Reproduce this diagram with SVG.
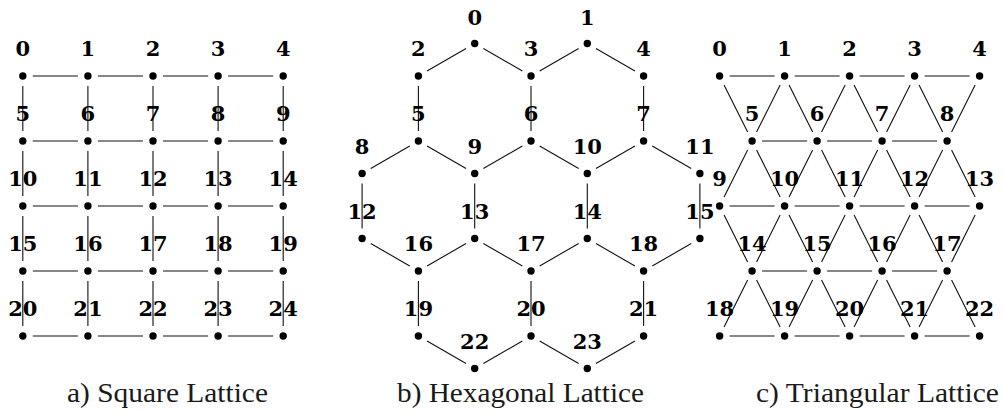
<svg xmlns="http://www.w3.org/2000/svg" width="1003" height="413" viewBox="0 0 1003 413">
<style>
.e{stroke:#111;stroke-width:1.1;fill:none}
.l{font-family:"DejaVu Serif","Liberation Serif",serif;font-weight:bold;font-size:21px;text-anchor:middle;fill:#000}
.c{font-family:"Liberation Serif",serif;font-size:27px;text-anchor:middle;fill:#1a1a1a}
</style>
<defs><circle id="d" r="3.7"/></defs>
<rect width="1003" height="413" fill="#fff"/>

<!-- Square lattice connectors -->
<g id="square-edges" class="e">
<path d="M32.8 76H77.9M97.9 76H143M163 76H208.1M228.1 76H273.2
M32.8 141H77.9M97.9 141H143M163 141H208.1M228.1 141H273.2
M32.8 206H77.9M97.9 206H143M163 206H208.1M228.1 206H273.2
M32.8 271H77.9M97.9 271H143M163 271H208.1M228.1 271H273.2
M32.8 336H77.9M97.9 336H143M163 336H208.1M228.1 336H273.2
M22.8 86V131M22.8 151V196M22.8 216V261M22.8 281V326
M87.9 86V131M87.9 151V196M87.9 216V261M87.9 281V326
M153 86V131M153 151V196M153 216V261M153 281V326
M218.1 86V131M218.1 151V196M218.1 216V261M218.1 281V326
M283.2 86V131M283.2 151V196M283.2 216V261M283.2 281V326"/>
</g>

<!-- Square lattice nodes -->
<g id="sq0"><use href="#d" x="22.8" y="76"/><text class="l" x="22.8" y="56">0</text></g>
<g id="sq1"><use href="#d" x="87.9" y="76"/><text class="l" x="87.9" y="56">1</text></g>
<g id="sq2"><use href="#d" x="153" y="76"/><text class="l" x="153" y="56">2</text></g>
<g id="sq3"><use href="#d" x="218.1" y="76"/><text class="l" x="218.1" y="56">3</text></g>
<g id="sq4"><use href="#d" x="283.2" y="76"/><text class="l" x="283.2" y="56">4</text></g>
<g id="sq5"><use href="#d" x="22.8" y="141"/><text class="l" x="22.8" y="121">5</text></g>
<g id="sq6"><use href="#d" x="87.9" y="141"/><text class="l" x="87.9" y="121">6</text></g>
<g id="sq7"><use href="#d" x="153" y="141"/><text class="l" x="153" y="121">7</text></g>
<g id="sq8"><use href="#d" x="218.1" y="141"/><text class="l" x="218.1" y="121">8</text></g>
<g id="sq9"><use href="#d" x="283.2" y="141"/><text class="l" x="283.2" y="121">9</text></g>
<g id="sq10"><use href="#d" x="22.8" y="206"/><text class="l" x="22.8" y="186">10</text></g>
<g id="sq11"><use href="#d" x="87.9" y="206"/><text class="l" x="87.9" y="186">11</text></g>
<g id="sq12"><use href="#d" x="153" y="206"/><text class="l" x="153" y="186">12</text></g>
<g id="sq13"><use href="#d" x="218.1" y="206"/><text class="l" x="218.1" y="186">13</text></g>
<g id="sq14"><use href="#d" x="283.2" y="206"/><text class="l" x="283.2" y="186">14</text></g>
<g id="sq15"><use href="#d" x="22.8" y="271"/><text class="l" x="22.8" y="251">15</text></g>
<g id="sq16"><use href="#d" x="87.9" y="271"/><text class="l" x="87.9" y="251">16</text></g>
<g id="sq17"><use href="#d" x="153" y="271"/><text class="l" x="153" y="251">17</text></g>
<g id="sq18"><use href="#d" x="218.1" y="271"/><text class="l" x="218.1" y="251">18</text></g>
<g id="sq19"><use href="#d" x="283.2" y="271"/><text class="l" x="283.2" y="251">19</text></g>
<g id="sq20"><use href="#d" x="22.8" y="336"/><text class="l" x="22.8" y="316">20</text></g>
<g id="sq21"><use href="#d" x="87.9" y="336"/><text class="l" x="87.9" y="316">21</text></g>
<g id="sq22"><use href="#d" x="153" y="336"/><text class="l" x="153" y="316">22</text></g>
<g id="sq23"><use href="#d" x="218.1" y="336"/><text class="l" x="218.1" y="316">23</text></g>
<g id="sq24"><use href="#d" x="283.2" y="336"/><text class="l" x="283.2" y="316">24</text></g>

<!-- Hexagonal lattice connectors -->
<g id="hex-edges" class="e">
<path d="M466.04 48.5L427.06 71M483.36 48.5L522.34 71M578.64 48.5L539.66 71M595.96 48.5L634.94 71
M418.4 86V131M531 86V131M643.6 86V131
M409.74 146L370.76 168.5M427.06 146L466.04 168.5M522.34 146L483.36 168.5M539.66 146L578.64 168.5M634.94 146L595.96 168.5M652.26 146L691.24 168.5
M362.1 183.5V228.5M474.7 183.5V228.5M587.3 183.5V228.5M699.9 183.5V228.5
M370.76 243.5L409.74 266M466.04 243.5L427.06 266M483.36 243.5L522.34 266M578.64 243.5L539.66 266M595.96 243.5L634.94 266M691.24 243.5L652.26 266
M418.4 281V326M531 281V326M643.6 281V326
M427.06 341L466.04 363.5M522.34 341L483.36 363.5M539.66 341L578.64 363.5M634.94 341L595.96 363.5"/>
</g>

<!-- Hexagonal lattice nodes -->
<g id="hx0"><use href="#d" x="474.7" y="43.5"/><text class="l" x="474.7" y="24.5">0</text></g>
<g id="hx1"><use href="#d" x="587.3" y="43.5"/><text class="l" x="587.3" y="24.5">1</text></g>
<g id="hx2"><use href="#d" x="418.4" y="76"/><text class="l" x="418.4" y="56">2</text></g>
<g id="hx3"><use href="#d" x="531" y="76"/><text class="l" x="531" y="56">3</text></g>
<g id="hx4"><use href="#d" x="643.6" y="76"/><text class="l" x="643.6" y="56">4</text></g>
<g id="hx5"><use href="#d" x="418.4" y="141"/><text class="l" x="418.4" y="121">5</text></g>
<g id="hx6"><use href="#d" x="531" y="141"/><text class="l" x="531" y="121">6</text></g>
<g id="hx7"><use href="#d" x="643.6" y="141"/><text class="l" x="643.6" y="121">7</text></g>
<g id="hx8"><use href="#d" x="362.1" y="173.5"/><text class="l" x="362.1" y="154">8</text></g>
<g id="hx9"><use href="#d" x="474.7" y="173.5"/><text class="l" x="474.7" y="154">9</text></g>
<g id="hx10"><use href="#d" x="587.3" y="173.5"/><text class="l" x="587.3" y="154">10</text></g>
<g id="hx11"><use href="#d" x="699.9" y="173.5"/><text class="l" x="699.9" y="154">11</text></g>
<g id="hx12"><use href="#d" x="362.1" y="238.5"/><text class="l" x="362.1" y="219">12</text></g>
<g id="hx13"><use href="#d" x="474.7" y="238.5"/><text class="l" x="474.7" y="219">13</text></g>
<g id="hx14"><use href="#d" x="587.3" y="238.5"/><text class="l" x="587.3" y="219">14</text></g>
<g id="hx15"><use href="#d" x="699.9" y="238.5"/><text class="l" x="699.9" y="219">15</text></g>
<g id="hx16"><use href="#d" x="418.4" y="271"/><text class="l" x="418.4" y="251">16</text></g>
<g id="hx17"><use href="#d" x="531" y="271"/><text class="l" x="531" y="251">17</text></g>
<g id="hx18"><use href="#d" x="643.6" y="271"/><text class="l" x="643.6" y="251">18</text></g>
<g id="hx19"><use href="#d" x="418.4" y="336"/><text class="l" x="418.4" y="316">19</text></g>
<g id="hx20"><use href="#d" x="531" y="336"/><text class="l" x="531" y="316">20</text></g>
<g id="hx21"><use href="#d" x="643.6" y="336"/><text class="l" x="643.6" y="316">21</text></g>
<g id="hx22"><use href="#d" x="474.7" y="368.5"/><text class="l" x="474.7" y="348.5">22</text></g>
<g id="hx23"><use href="#d" x="587.3" y="368.5"/><text class="l" x="587.3" y="348.5">23</text></g>

<!-- Triangular lattice connectors -->
<g id="tri-edges" class="e">
<path d="M729.6 76H774.6M794.6 76H839.6M859.6 76H904.6M924.6 76H969.6
M762.1 141H807.1M827.1 141H872.1M892.1 141H937.1
M729.6 206H774.6M794.6 206H839.6M859.6 206H904.6M924.6 206H969.6
M762.1 271H807.1M827.1 271H872.1M892.1 271H937.1
M729.6 336H774.6M794.6 336H839.6M859.6 336H904.6M924.6 336H969.6
M724.07 84.94L747.63 132.06M780.13 84.94L756.57 132.06M789.07 84.94L812.63 132.06M845.13 84.94L821.57 132.06M854.07 84.94L877.63 132.06M910.13 84.94L886.57 132.06M919.07 84.94L942.63 132.06M975.13 84.94L951.57 132.06
M747.63 149.94L724.07 197.06M756.57 149.94L780.13 197.06M812.63 149.94L789.07 197.06M821.57 149.94L845.13 197.06M877.63 149.94L854.07 197.06M886.57 149.94L910.13 197.06M942.63 149.94L919.07 197.06M951.57 149.94L975.13 197.06
M724.07 214.94L747.63 262.06M780.13 214.94L756.57 262.06M789.07 214.94L812.63 262.06M845.13 214.94L821.57 262.06M854.07 214.94L877.63 262.06M910.13 214.94L886.57 262.06M919.07 214.94L942.63 262.06M975.13 214.94L951.57 262.06
M747.63 279.94L724.07 327.06M756.57 279.94L780.13 327.06M812.63 279.94L789.07 327.06M821.57 279.94L845.13 327.06M877.63 279.94L854.07 327.06M886.57 279.94L910.13 327.06M942.63 279.94L919.07 327.06M951.57 279.94L975.13 327.06"/>
</g>

<!-- Triangular lattice nodes -->
<g id="tr0"><use href="#d" x="719.6" y="76"/><text class="l" x="719.6" y="56">0</text></g>
<g id="tr1"><use href="#d" x="784.6" y="76"/><text class="l" x="784.6" y="56">1</text></g>
<g id="tr2"><use href="#d" x="849.6" y="76"/><text class="l" x="849.6" y="56">2</text></g>
<g id="tr3"><use href="#d" x="914.6" y="76"/><text class="l" x="914.6" y="56">3</text></g>
<g id="tr4"><use href="#d" x="979.6" y="76"/><text class="l" x="979.6" y="56">4</text></g>
<g id="tr5"><use href="#d" x="752.1" y="141"/><text class="l" x="752.1" y="121">5</text></g>
<g id="tr6"><use href="#d" x="817.1" y="141"/><text class="l" x="817.1" y="121">6</text></g>
<g id="tr7"><use href="#d" x="882.1" y="141"/><text class="l" x="882.1" y="121">7</text></g>
<g id="tr8"><use href="#d" x="947.1" y="141"/><text class="l" x="947.1" y="121">8</text></g>
<g id="tr9"><use href="#d" x="719.6" y="206"/><text class="l" x="719.6" y="186">9</text></g>
<g id="tr10"><use href="#d" x="784.6" y="206"/><text class="l" x="784.6" y="186">10</text></g>
<g id="tr11"><use href="#d" x="849.6" y="206"/><text class="l" x="849.6" y="186">11</text></g>
<g id="tr12"><use href="#d" x="914.6" y="206"/><text class="l" x="914.6" y="186">12</text></g>
<g id="tr13"><use href="#d" x="979.6" y="206"/><text class="l" x="979.6" y="186">13</text></g>
<g id="tr14"><use href="#d" x="752.1" y="271"/><text class="l" x="752.1" y="251">14</text></g>
<g id="tr15"><use href="#d" x="817.1" y="271"/><text class="l" x="817.1" y="251">15</text></g>
<g id="tr16"><use href="#d" x="882.1" y="271"/><text class="l" x="882.1" y="251">16</text></g>
<g id="tr17"><use href="#d" x="947.1" y="271"/><text class="l" x="947.1" y="251">17</text></g>
<g id="tr18"><use href="#d" x="719.6" y="336"/><text class="l" x="719.6" y="316">18</text></g>
<g id="tr19"><use href="#d" x="784.6" y="336"/><text class="l" x="784.6" y="316">19</text></g>
<g id="tr20"><use href="#d" x="849.6" y="336"/><text class="l" x="849.6" y="316">20</text></g>
<g id="tr21"><use href="#d" x="914.6" y="336"/><text class="l" x="914.6" y="316">21</text></g>
<g id="tr22"><use href="#d" x="979.6" y="336"/><text class="l" x="979.6" y="316">22</text></g>

<!-- Captions -->
<g id="captions">
<text class="c" x="167.5" y="402" textLength="201" lengthAdjust="spacingAndGlyphs">a) Square Lattice</text>
<text class="c" x="520.5" y="402" textLength="247" lengthAdjust="spacingAndGlyphs">b) Hexagonal Lattice</text>
<text class="c" x="877.5" y="402" textLength="243" lengthAdjust="spacingAndGlyphs">c) Triangular Lattice</text>
</g>
</svg>
